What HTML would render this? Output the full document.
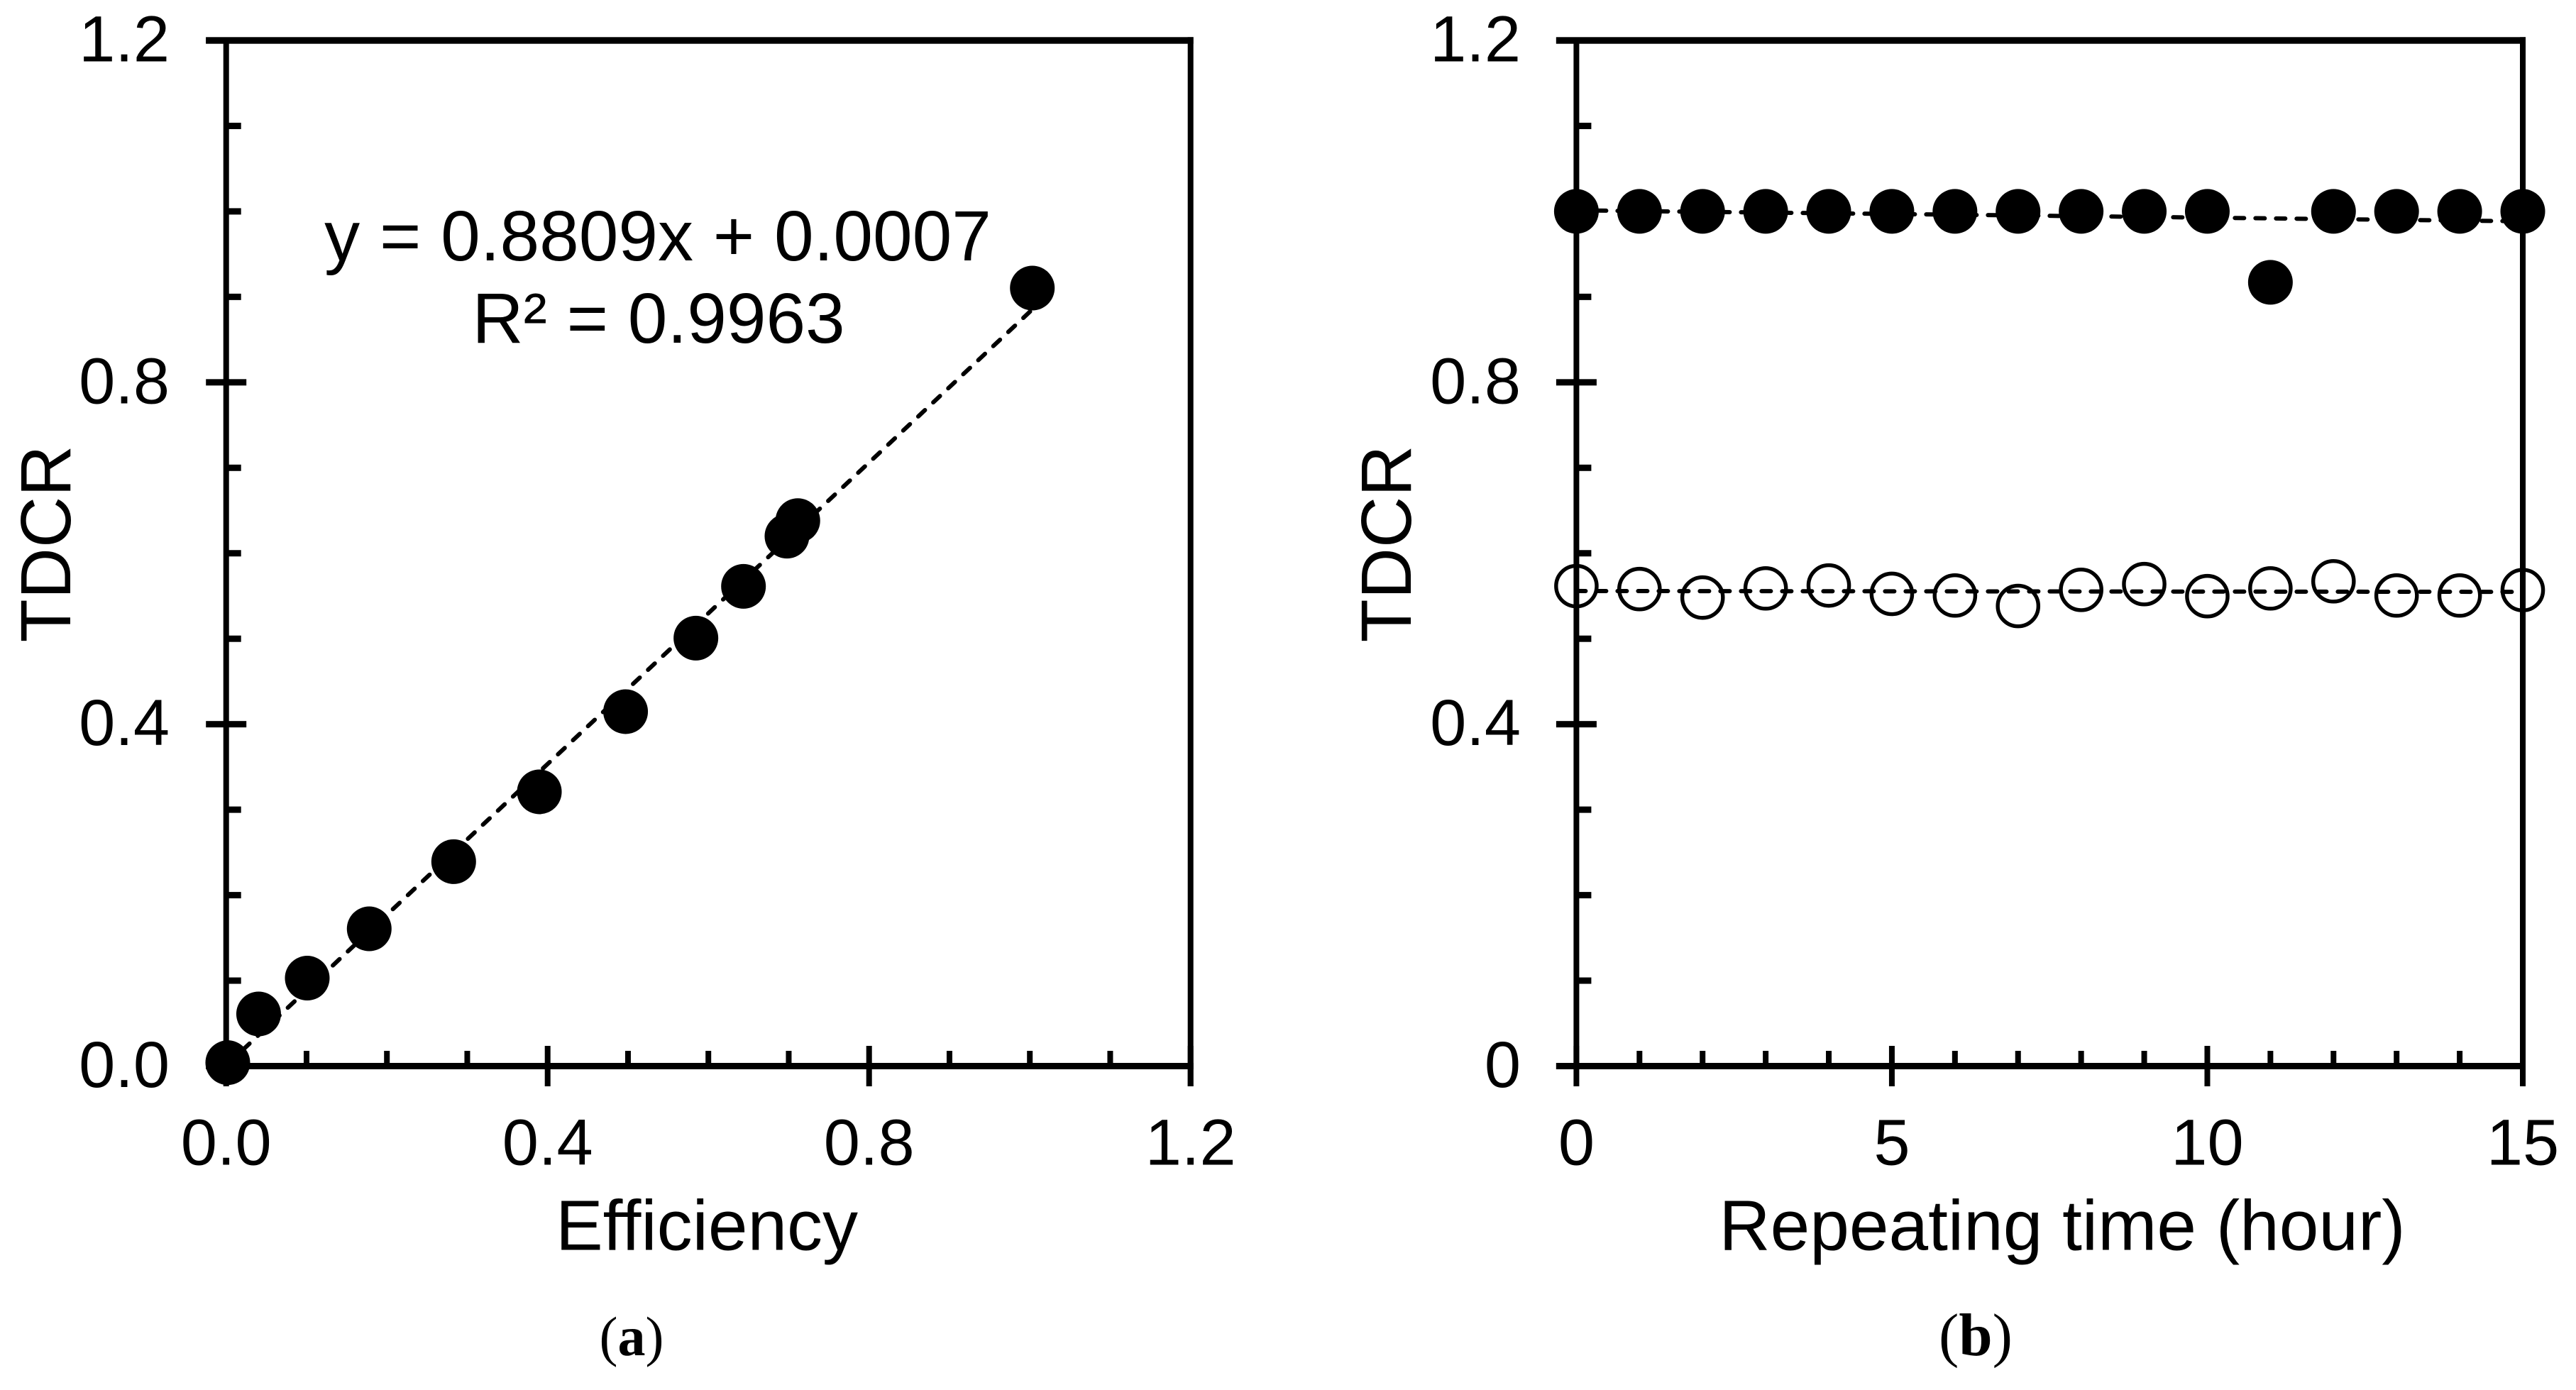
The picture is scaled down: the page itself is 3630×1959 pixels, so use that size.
<!DOCTYPE html>
<html lang="en">
<head>
<meta charset="utf-8">
<title>TDCR charts</title>
<style>
  html, body { margin: 0; padding: 0; background: #fff; }
  svg { display: block; }
  text { font-family: "Liberation Sans", Arial, sans-serif; fill: #000; }
  .caption { font-family: "Liberation Serif", serif; }
</style>
</head>
<body>
<svg id="figure" xmlns="http://www.w3.org/2000/svg" width="3630" height="1959" viewBox="0 0 3630 1959"></svg>
<script>
// Panel (a) data
const efficiencyValues = [0.002, 0.0404, 0.1009, 0.178, 0.2831, 0.3897, 0.497, 0.5845, 0.6437, 0.6978, 0.7113, 1.0031];
const tdcrValues = [0.004, 0.061, 0.1029, 0.1606, 0.2392, 0.3209, 0.4147, 0.5007, 0.5613, 0.62, 0.6382, 0.9103];
const panelAXTickLabels = ["0.0", "0.4", "0.8", "1.2"];
const panelAYTickLabels = ["0.0", "0.4", "0.8", "1.2"];

// Panel (b) data
const repeatHours = [0, 1, 2, 3, 4, 5, 6, 7, 8, 9, 10, 11, 12, 13, 14, 15];
const filledSeries = [1, 1, 1, 1, 1, 1, 1, 1, 1, 1, 1, 0.917, 1, 1, 1, 1];
const openSeries = [0.5616, 0.5581, 0.5482, 0.5589, 0.5623, 0.5525, 0.5506, 0.5383, 0.5572, 0.5639, 0.5498, 0.5589, 0.5672, 0.5506, 0.5506, 0.5569];
const panelBXTickLabels = ["0", "5", "10", "15"];
const panelBYTickLabels = ["0", "0.4", "0.8", "1.2"];

const SVG_NS = "http://www.w3.org/2000/svg";
const root = document.getElementById("figure");

function make(parent, tag, attrs, content) {
  const el = document.createElementNS(SVG_NS, tag);
  for (const k in attrs) el.setAttribute(k, attrs[k]);
  if (content !== undefined) el.textContent = content;
  parent.appendChild(el);
  return el;
}

function regression(xs, ys) {
  const n = xs.length;
  const mx = xs.reduce((a, b) => a + b, 0) / n;
  const my = ys.reduce((a, b) => a + b, 0) / n;
  let num = 0, den = 0;
  xs.forEach((x, i) => { num += (x - mx) * (ys[i] - my); den += (x - mx) * (x - mx); });
  const slope = num / den;
  return { slope: slope, intercept: my - slope * mx };
}

const PLOT_TOP = 57, PLOT_BOTTOM = 1502.5, TICK_HALF = 28.5, MINOR_LEN = 21;

function drawFrame(g, left, right, labelAnchorX, xMax, xMajorStep, xMinorStep, yLabels, xLabels, sx, sy) {
  const frame = make(g, "g", { fill: "#000" });
  
  

  const top = make(frame, "rect", { x: left - TICK_HALF, y: PLOT_TOP - 4.7, width: right + 4 - left + TICK_HALF, height: 9.4 });
  
  

  const leftAxis = make(frame, "rect", { x: left - 4, y: PLOT_TOP, width: 8, height: PLOT_BOTTOM - PLOT_TOP });
  
  

  const rightAxis = make(frame, "rect", { x: right - 4, y: PLOT_TOP - 4.7, width: 8, height: PLOT_BOTTOM + TICK_HALF - PLOT_TOP + 4.7 });
  
  

  const bottom = make(frame, "rect", { x: left - TICK_HALF, y: PLOT_BOTTOM - 4.5, width: right + 4 - left + TICK_HALF, height: 9 });
  
  

  // y ticks: a major tick every 0.4, minor every 0.1
  for (let i = 0; i <= 12; i++) {
    const y = sy(i / 10);
    if (i % 4 === 0) {
      const t = make(frame, "rect", { x: left - TICK_HALF, y: y - 4.5, width: TICK_HALF * 2, height: 9 });
      
      
      const label = make(g, "text", { x: labelAnchorX, y: y + 29.5, "text-anchor": "end", "font-size": 92 }, yLabels[i / 4]);
      
      
    } else {
      const t = make(frame, "rect", { x: left, y: y - 4.5, width: MINOR_LEN, height: 9 });
      
      
    }
  }

  // x ticks
  const minorCount = Math.round(xMax / xMinorStep);
  const perMajor = Math.round(xMajorStep / xMinorStep);
  for (let i = 0; i <= minorCount; i++) {
    const x = sx(i * xMinorStep);
    if (i % perMajor === 0) {
      const t = make(frame, "rect", { x: x - 4, y: PLOT_BOTTOM - TICK_HALF, width: 8, height: TICK_HALF * 2 });
      
      
      const label = make(g, "text", { x: x, y: 1641.5, "text-anchor": "middle", "font-size": 92 }, xLabels[i / perMajor]);
      
      
    } else {
      const t = make(frame, "rect", { x: x - 4, y: PLOT_BOTTOM - 21.5, width: 8, height: 21.5 });
      
      
    }
  }
}

function dashedTrend(g, xs, ys, sx, sy) {
  const fit = regression(xs, ys);
  const x0 = Math.min(...xs), x1 = Math.max(...xs);
  const line = make(g, "line", {
    x1: sx(x0), y1: sy(fit.slope * x0 + fit.intercept),
    x2: sx(x1), y2: sy(fit.slope * x1 + fit.intercept),
    stroke: "#000", "stroke-width": 6, "stroke-linecap": "round", "stroke-dasharray": "13 16"
  });
  return line;
}

/* ---------- Panel (a) ---------- */
const panelA = make(root, "g", {});



const ax = v => 318.7 + (v / 1.2) * (1677.7 - 318.7);
const ay = v => PLOT_BOTTOM - (v / 1.2) * (PLOT_BOTTOM - PLOT_TOP);

drawFrame(panelA, 318.7, 1677.7, 239, 1.2, 0.4, 0.1, panelAYTickLabels, panelAXTickLabels, ax, ay);

const trendA = dashedTrend(panelA, efficiencyValues, tdcrValues, ax, ay);



efficiencyValues.forEach((v, i) => {
  const dot = make(panelA, "circle", { cx: ax(v), cy: ay(tdcrValues[i]), r: 31.5, fill: "#000" });
  
  
});

const eqA = make(panelA, "text", { x: 927, y: 367, "text-anchor": "middle", "font-size": 100 }, "y = 0.8809x + 0.0007");



const r2A = make(panelA, "text", { x: 928, y: 483, "text-anchor": "middle", "font-size": 100 }, "R\u00B2 = 0.9963");



const xTitleA = make(panelA, "text", { x: 996, y: 1761.5, "text-anchor": "middle", "font-size": 100 }, "Efficiency");



const yTitleA = make(panelA, "text", { transform: "translate(99 766.5) rotate(-90)", "text-anchor": "middle", "font-size": 100 }, "TDCR");



const capA = make(panelA, "text", { class: "caption", x: 890, y: 1910, "text-anchor": "middle", "font-size": 78 });


make(capA, "tspan", {}, "(");
make(capA, "tspan", { "font-weight": "bold" }, "a");
make(capA, "tspan", {}, ")");

/* ---------- Panel (b) ---------- */
const panelB = make(root, "g", {});



const bx = v => 2221.4 + (v / 15) * (3555 - 2221.4);
const by = ay;

drawFrame(panelB, 2221.4, 3555, 2143, 15, 5, 1, panelBYTickLabels, panelBXTickLabels, bx, by);

const trendFilled = dashedTrend(panelB, repeatHours, filledSeries, bx, by);



const trendOpen = dashedTrend(panelB, repeatHours, openSeries, bx, by);



repeatHours.forEach((h, i) => {
  const dot = make(panelB, "circle", { cx: bx(h), cy: by(filledSeries[i]), r: 31.5, fill: "#000" });
  
  
});

repeatHours.forEach((h, i) => {
  const ring = make(panelB, "circle", { cx: bx(h), cy: by(openSeries[i]), r: 28.6, fill: "none", stroke: "#000", "stroke-width": 5.4 });
  
  
});

const xTitleB = make(panelB, "text", { x: 2906, y: 1761.5, "text-anchor": "middle", "font-size": 100 }, "Repeating time (hour)");



const yTitleB = make(panelB, "text", { transform: "translate(1988 766.5) rotate(-90)", "text-anchor": "middle", "font-size": 100 }, "TDCR");



const capB = make(panelB, "text", { class: "caption", x: 2784, y: 1910, "text-anchor": "middle", "font-size": 85 });


make(capB, "tspan", {}, "(");
make(capB, "tspan", { "font-weight": "bold" }, "b");
make(capB, "tspan", {}, ")");
</script>
</body>
</html>
